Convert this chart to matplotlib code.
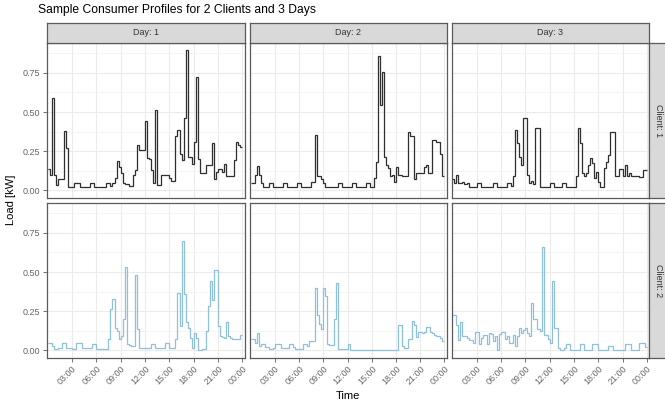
import numpy as np
import matplotlib.pyplot as plt

# 15-min load values (kW), 96 per day
client1_day1 = [0.135, 0.10, 0.59, 0.10, 0.035, 0.07, 0.07, 0.07, 0.38, 0.27,
                0.02, 0.02, 0.02, 0.05, 0.05, 0.05, 0.02, 0.02, 0.02, 0.02,
                0.02, 0.05, 0.05, 0.02, 0.02, 0.02, 0.02, 0.02, 0.02, 0.05,
                0.05, 0.03, 0.05, 0.08, 0.185, 0.15, 0.11, 0.05, 0.04, 0.04,
                0.03, 0.03, 0.10, 0.13, 0.29, 0.26, 0.26, 0.26, 0.445, 0.21,
                0.20, 0.13, 0.05, 0.51, 0.035, 0.035, 0.10, 0.10, 0.10, 0.10,
                0.08, 0.06, 0.06, 0.35, 0.385, 0.23, 0.195, 0.46, 0.895, 0.215,
                0.215, 0.17, 0.31, 0.725, 0.20, 0.11, 0.11, 0.11, 0.16, 0.16,
                0.16, 0.30, 0.07, 0.12, 0.135, 0.135, 0.12, 0.17, 0.09, 0.09,
                0.09, 0.09, 0.195, 0.31, 0.29, 0.28]
client1_day2 = [0.045, 0.045, 0.10, 0.155, 0.10, 0.045, 0.025, 0.025, 0.025, 0.05,
                0.05, 0.025, 0.025, 0.025, 0.025, 0.025, 0.05, 0.05, 0.025, 0.025,
                0.025, 0.025, 0.025, 0.05, 0.05, 0.025, 0.025, 0.025, 0.025, 0.025,
                0.055, 0.055, 0.355, 0.09, 0.09, 0.07, 0.045, 0.025, 0.025, 0.025,
                0.025, 0.025, 0.025, 0.05, 0.05, 0.025, 0.025, 0.025, 0.025, 0.025,
                0.05, 0.05, 0.025, 0.025, 0.025, 0.025, 0.025, 0.05, 0.05, 0.025,
                0.025, 0.08, 0.18, 0.86, 0.545, 0.755, 0.215, 0.165, 0.14, 0.09,
                0.10, 0.055, 0.15, 0.10, 0.10, 0.09, 0.09, 0.09, 0.37, 0.345,
                0.345, 0.07, 0.11, 0.11, 0.11, 0.11, 0.15, 0.165, 0.11, 0.11,
                0.32, 0.32, 0.31, 0.31, 0.23, 0.09]
client1_day3 = [0.07, 0.05, 0.10, 0.045, 0.045, 0.055, 0.04, 0.05, 0.025, 0.025,
                0.025, 0.025, 0.05, 0.05, 0.025, 0.025, 0.025, 0.025, 0.025, 0.025,
                0.05, 0.05, 0.025, 0.025, 0.025, 0.025, 0.025, 0.05, 0.05, 0.03,
                0.09, 0.385, 0.30, 0.215, 0.165, 0.465, 0.465, 0.10, 0.045, 0.06,
                0.04, 0.395, 0.395, 0.025, 0.025, 0.025, 0.025, 0.025, 0.05, 0.05,
                0.025, 0.025, 0.025, 0.025, 0.05, 0.05, 0.025, 0.025, 0.025, 0.025,
                0.025, 0.09, 0.395, 0.30, 0.11, 0.09, 0.11, 0.165, 0.205, 0.175,
                0.08, 0.115, 0.055, 0.025, 0.025, 0.14, 0.18, 0.225, 0.375, 0.375,
                0.09, 0.09, 0.135, 0.135, 0.09, 0.165, 0.09, 0.11, 0.095, 0.095,
                0.095, 0.095, 0.085, 0.085, 0.13, 0.13]
client2_day1 = [0.05, 0.05, 0.03, 0.01, 0.01, 0.017, 0.017, 0.05, 0.05, 0.017,
                0.017, 0.017, 0.01, 0.01, 0.045, 0.045, 0.045, 0.015, 0.015, 0.015,
                0.015, 0.015, 0.043, 0.043, 0.01, 0.01, 0.01, 0.01, 0.01, 0.01,
                0.07, 0.265, 0.33, 0.145, 0.125, 0.07, 0.09, 0.20, 0.53, 0.04,
                0.035, 0.03, 0.03, 0.48, 0.135, 0.017, 0.017, 0.017, 0.017, 0.017,
                0.017, 0.043, 0.043, 0.017, 0.017, 0.017, 0.017, 0.017, 0.045, 0.045,
                0.017, 0.017, 0.017, 0.07, 0.365, 0.155, 0.70, 0.36, 0.18, 0.145,
                0.08, 0.017, 0.11, 0.08, 0.006, 0.006, 0.01, 0.01, 0.125, 0.285,
                0.445, 0.32, 0.515, 0.515, 0.155, 0.09, 0.085, 0.08, 0.18, 0.09,
                0.08, 0.07, 0.07, 0.07, 0.07, 0.10]
client2_day2 = [0.07, 0.07, 0.05, 0.11, 0.028, 0.043, 0.043, 0.024, 0.024, 0.01,
                0.01, 0.017, 0.043, 0.043, 0.043, 0.013, 0.013, 0.013, 0.013, 0.043,
                0.043, 0.02, 0.008, 0.008, 0.008, 0.008, 0.043, 0.043, 0.028, 0.06,
                0.06, 0.06, 0.40, 0.225, 0.17, 0.135, 0.40, 0.35, 0.04, 0.033,
                0.033, 0.20, 0.43, 0.01, 0.01, 0.01, 0.01, 0.01, 0.043, 0.0,
                0.0, 0.0, 0.0, 0.0, 0.0, 0.0, 0.0, 0.0, 0.0, 0.0,
                0.0, 0.0, 0.0, 0.0, 0.0, 0.0, 0.0, 0.0, 0.0, 0.0,
                0.0, 0.0, 0.0, 0.165, 0.165, 0.028, 0.018, 0.018, 0.07, 0.07,
                0.19, 0.16, 0.085, 0.115, 0.12, 0.11, 0.115, 0.15, 0.15, 0.12,
                0.11, 0.10, 0.095, 0.095, 0.08, 0.06]
client2_day3 = [0.225, 0.225, 0.165, 0.065, 0.18, 0.095, 0.095, 0.08, 0.065, 0.065,
                0.05, 0.12, 0.12, 0.04, 0.08, 0.10, 0.10, 0.04, 0.11, 0.105,
                0.06, 0.095, 0.006, 0.105, 0.115, 0.115, 0.07, 0.09, 0.05, 0.05,
                0.10, 0.03, 0.095, 0.145, 0.11, 0.13, 0.14, 0.11, 0.095, 0.30,
                0.20, 0.20, 0.135, 0.125, 0.66, 0.10, 0.10, 0.075, 0.05, 0.44,
                0.14, 0.14, 0.017, 0.006, 0.006, 0.017, 0.04, 0.04, 0.006, 0.006,
                0.006, 0.006, 0.006, 0.04, 0.04, 0.006, 0.006, 0.006, 0.006, 0.043,
                0.043, 0.043, 0.006, 0.006, 0.006, 0.006, 0.006, 0.028, 0.028, 0.006,
                0.006, 0.006, 0.006, 0.006, 0.006, 0.04, 0.04, 0.04, 0.006, 0.006,
                0.006, 0.006, 0.045, 0.045, 0.045, 0.025]

days = ["Day: 1", "Day: 2", "Day: 3"]
clients = ["Client: 1", "Client: 2"]
series = [[client1_day1, client1_day2, client1_day3],
          [client2_day1, client2_day2, client2_day3]]
line_colors = ["#2e2e2e", "#8fc0d9"]
x_ticks = [3, 6, 9, 12, 15, 18, 21, 24]
x_labels = ["03:00", "06:00", "09:00", "12:00", "15:00", "18:00", "21:00", "00:00"]
y_ticks = [0.0, 0.25, 0.5, 0.75]
y_labels = ["0.00", "0.25", "0.50", "0.75"]

W, H = 665, 409
fig = plt.figure(figsize=(W / 100, H / 100), dpi=100)
plt.rcParams['font.family'] = ['Liberation Sans', 'DejaVu Sans']


def rect(x0, y0, x1, y1):
    return [x0 / W, 1 - y1 / H, (x1 - x0) / W, (y1 - y0) / H]


cols = [(46.7, 244.5), (250.0, 446.5), (451.5, 649.0)]
rows = [(43.0, 197.5), (203.0, 357.5)]
border = "#5a5a5a"
strip_fill = "#d9d9d9"
tick_txt = "#666666"

for r, (y0, y1) in enumerate(rows):
    for c, (x0, x1) in enumerate(cols):
        ax = fig.add_axes(rect(x0, y0, x1, y1))
        vals = np.array(series[r][c])
        edges = np.arange(len(vals) + 1) * 0.25
        ax.stairs(vals, edges, baseline=None, color=line_colors[r], lw=0.9)
        ax.set_xlim(-0.1, 24.25)
        ax.set_ylim(-0.045, 0.94)
        ax.set_xticks(x_ticks)
        ax.set_yticks(y_ticks)
        ax.set_yticks([0.125, 0.375, 0.625, 0.875], minor=True)
        ax.grid(which='major', color='#ebebeb', lw=0.8)
        ax.grid(which='minor', axis='y', color='#f2f2f2', lw=0.5)
        ax.set_axisbelow(True)
        for s in ax.spines.values():
            s.set_color(border)
            s.set_linewidth(0.9)
        ax.tick_params(which='major', length=3, width=0.6, color=border,
                       labelsize=6.5, labelcolor=tick_txt, pad=1.5)
        ax.tick_params(which='minor', length=0)
        if r == 1:
            ax.set_xticklabels(x_labels, rotation=45, ha='right',
                               rotation_mode='anchor')
        else:
            ax.set_xticklabels([])
            ax.tick_params(axis='x', length=0)
        if c == 0:
            ax.set_yticklabels(y_labels)
        else:
            ax.set_yticklabels([])
            ax.tick_params(axis='y', length=0)

# top strips
for c, (x0, x1) in enumerate(cols):
    sax = fig.add_axes(rect(x0, 22.7, x1, 43.0))
    sax.set_facecolor(strip_fill)
    sax.set_xticks([])
    sax.set_yticks([])
    for s in sax.spines.values():
        s.set_color(border)
        s.set_linewidth(0.9)
    sax.text(0.5, 0.5, days[c], transform=sax.transAxes, ha='center',
             va='center', fontsize=6.5, color='#333333')

# right strips (cut off at figure edge)
for r, (y0, y1) in enumerate(rows):
    sax = fig.add_axes(rect(649.0, y0, 670.0, y1))
    sax.set_facecolor(strip_fill)
    sax.set_xticks([])
    sax.set_yticks([])
    for s in sax.spines.values():
        s.set_color(border)
        s.set_linewidth(0.9)
    sax.text(659.0 / W, 1 - (y0 + y1) / 2 / H, clients[r], transform=fig.transFigure,
             ha='center', va='center', rotation=-90, fontsize=6.5, color='#333333')

fig.text(38 / W, 1 - 10 / H, "Sample Consumer Profiles for 2 Clients and 3 Days",
         ha='left', va='center', fontsize=8.7, color='black')
fig.text(348 / W, 1 - 396 / H, "Time", ha='center', va='center', fontsize=8)
fig.text(11 / W, 1 - 200 / H, "Load [kW]", ha='center', va='center',
         rotation=90, fontsize=8)

fig.savefig("out.png", dpi=100)
